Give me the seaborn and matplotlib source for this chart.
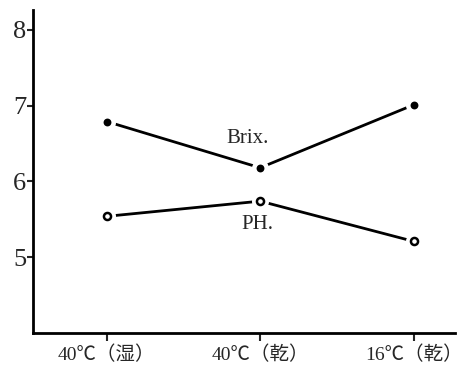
import matplotlib
matplotlib.use("Agg")
from matplotlib import pyplot as plt
import pandas as pd
import seaborn as sns

conditions = ["40℃（湿）", "40℃（乾）", "16℃（乾）"]
brix = [6.79, 6.18, 7.01]
ph = [5.54, 5.74, 5.21]

sns.set_style("ticks")
plt.rcParams['font.family'] = ['Liberation Serif', 'Noto Sans CJK JP', 'DejaVu Sans']

df = pd.DataFrame({"cond": conditions * 2,
                   "value": brix + ph,
                   "series": ["Brix."] * 3 + ["PH."] * 3})

fig = plt.figure(figsize=(4.73, 3.73), dpi=100)
ax = fig.add_axes([0.07, 0.107, 0.892, 0.866])

sns.lineplot(data=df, x="cond", y="value", units="series", estimator=None,
             color="black", linewidth=2, ax=ax, sort=False)

# white halos to leave small gaps between lines and points
sns.scatterplot(data=df, x="cond", y="value", color="white", s=150,
                linewidth=0, ax=ax, zorder=3)
sns.scatterplot(data=df[df.series == "Brix."], x="cond", y="value",
                color="black", s=32, linewidth=0, ax=ax, zorder=4)
sns.scatterplot(data=df[df.series == "PH."], x="cond", y="value",
                facecolor="white", edgecolor="black", s=26, linewidth=1.8,
                ax=ax, zorder=4)

ax.text(0.92, 6.57, "Brix.", ha="center", va="center", fontsize=15)
ax.text(0.98, 5.43, "PH.", ha="center", va="center", fontsize=15)

ax.set_xlim(-0.48, 2.27)
ax.set_ylim(4.0, 8.26)
ax.set_yticks([5, 6, 7, 8])
ax.set_xticks(range(3))
ax.set_xticklabels(conditions)
ax.tick_params(axis="y", labelsize=19, length=4, width=1.5, direction="out", pad=1)
ax.tick_params(axis="x", labelsize=14, length=6, width=1.5, direction="out", pad=3)
ax.set_xlabel("")
ax.set_ylabel("")
for s in ["top", "right"]:
    ax.spines[s].set_visible(False)
for s in ["left", "bottom"]:
    ax.spines[s].set_linewidth(2)
    ax.spines[s].set_color("black")

fig.savefig("out.png", dpi=100)
